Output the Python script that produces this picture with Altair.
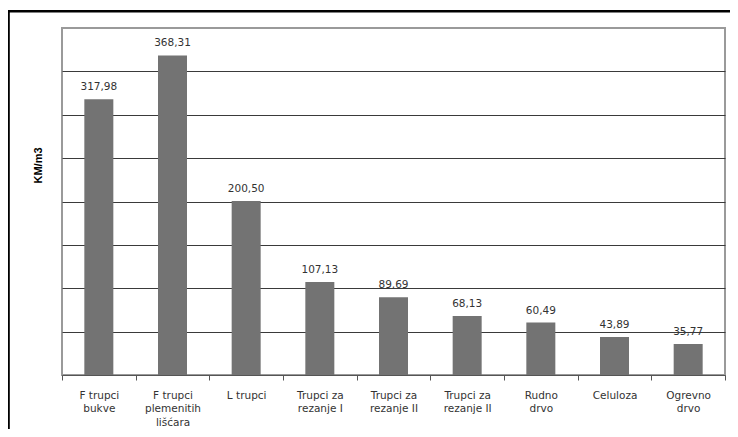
import json
import altair as alt
import pandas as pd

categories = [
    "F trupci|bukve",
    "F trupci|plemenitih|lišćara",
    "L trupci",
    "Trupci za|rezanje I",
    "Trupci za|rezanje II",
    "Trupci za|rezanje II",
    "Rudno|drvo",
    "Celuloza",
    "Ogrevno|drvo",
]
values = [317.98, 368.31, 200.50, 107.13, 89.69, 68.13, 60.49, 43.89, 35.77]
grid_values = [50, 100, 150, 200, 250, 300, 350]

df = pd.DataFrame({
    "key": list(range(len(categories))),
    "value": values,
    "label": [f"{v:.2f}".replace(".", ",") for v in values],
})

FONT = "DejaVu Sans"
label_expr = (
    "isValid(datum.value) ? split("
    + json.dumps(categories, ensure_ascii=False)
    + "[datum.value], '|') : ''"
)

x = alt.X(
    "key:O",
    scale=alt.Scale(paddingInner=0, paddingOuter=0),
    axis=alt.Axis(
        title=None,
        labelAngle=0,
        labelExpr=label_expr,
        labelFont=FONT,
        labelFontSize=10.5,
        labelColor="#333333",
        labelLineHeight=13.5,
        labelPadding=10,
        tickBand="extent",
        tickSize=5,
        tickColor="#555555",
        domainColor="#555555",
        grid=False,
    ),
)
y = alt.Y(
    "value:Q",
    scale=alt.Scale(domain=[0, 400], nice=False),
    axis=alt.Axis(
        title="KM/m3",
        titleFont="Liberation Sans",
        titleFontSize=11,
        titleFontWeight="bold",
        titleColor="#000000",
        titleX=-24,
        titleY=137,
        titleAngle=-90,
        titleAlign="center",
        titleBaseline="middle",
        values=grid_values,
        labels=False,
        ticks=False,
        domain=False,
        grid=True,
        gridColor="#3a3a3a",
        gridWidth=1,
    ),
)

bars = alt.Chart(df).mark_bar(size=29, color="#737373").encode(x=x, y=y)
texts = alt.Chart(df).mark_text(
    baseline="bottom", dy=-7, font=FONT, fontSize=10.5, color="#333333"
).encode(x=x, y=y, text="label:N")

frame_df = pd.DataFrame({"a": [0]})
frame = alt.Chart(frame_df).mark_rect(
    fill=None, fillOpacity=0, stroke="#000000", strokeWidth=2.6
).encode(
    x=alt.value(-53.5), x2=alt.value(900), y=alt.value(-16.7), y2=alt.value(700)
)

chart = alt.layer(bars, texts, frame).properties(
    width=663,
    height=347,
    padding={"left": 54, "top": 20, "right": 5, "bottom": 54},
    autosize=alt.AutoSizeParams(type="none"),
    background="#ffffff",
).configure_view(stroke="#9a9a9a", strokeWidth=2)

chart.save("out.html", embed_options={"renderer": "svg", "actions": False})
